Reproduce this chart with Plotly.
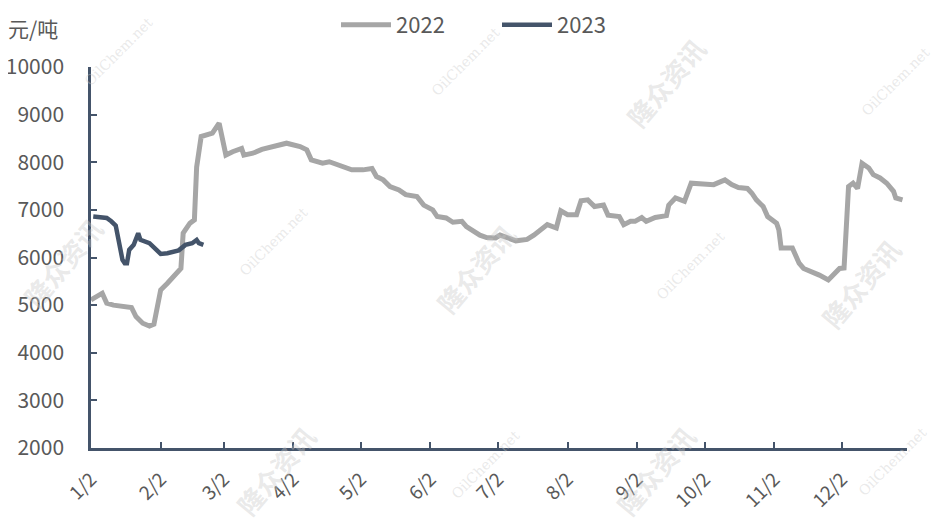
import plotly.graph_objects as go

# ---- data ----
dates_2022 = [
    "2022-01-02", "2022-01-07", "2022-01-09", "2022-01-12", "2022-01-20", "2022-01-22",
    "2022-01-25", "2022-01-28", "2022-01-30", "2022-02-02", "2022-02-05", "2022-02-09",
    "2022-02-11", "2022-02-12", "2022-02-15", "2022-02-17", "2022-02-18", "2022-02-20",
    "2022-02-22", "2022-02-25", "2022-02-28", "2022-03-03", "2022-03-06", "2022-03-10",
    "2022-03-11", "2022-03-15", "2022-03-19", "2022-03-24", "2022-03-30", "2022-04-05",
    "2022-04-08", "2022-04-10", "2022-04-15", "2022-04-18", "2022-04-22", "2022-04-25",
    "2022-04-28", "2022-05-03", "2022-05-07", "2022-05-09", "2022-05-12", "2022-05-15",
    "2022-05-19", "2022-05-22", "2022-05-27", "2022-05-30", "2022-06-03", "2022-06-05",
    "2022-06-09", "2022-06-12", "2022-06-16", "2022-06-18", "2022-06-21", "2022-06-24",
    "2022-06-27", "2022-07-01", "2022-07-03", "2022-07-06", "2022-07-10", "2022-07-15",
    "2022-07-18", "2022-07-24", "2022-07-28", "2022-07-30", "2022-08-02", "2022-08-06",
    "2022-08-08", "2022-08-11", "2022-08-14", "2022-08-18", "2022-08-20", "2022-08-25",
    "2022-08-27", "2022-08-30", "2022-09-01", "2022-09-04", "2022-09-06", "2022-09-10",
    "2022-09-15", "2022-09-16", "2022-09-19", "2022-09-23", "2022-09-26", "2022-10-06",
    "2022-10-11", "2022-10-14", "2022-10-17", "2022-10-21", "2022-10-23", "2022-10-25",
    "2022-10-28", "2022-10-30", "2022-11-03", "2022-11-04", "2022-11-05", "2022-11-10",
    "2022-11-13", "2022-11-15", "2022-11-19", "2022-11-22", "2022-11-26", "2022-11-28",
    "2022-12-01", "2022-12-03", "2022-12-05", "2022-12-07", "2022-12-09", "2022-12-11",
    "2022-12-14", "2022-12-16", "2022-12-19", "2022-12-22", "2022-12-25", "2022-12-26",
    "2022-12-29",
]
values_2022 = [
    5110, 5250, 5040, 5000, 4950, 4760,
    4620, 4560, 4600, 5320, 5460, 5670,
    5770, 6510, 6720, 6790, 7900, 8540,
    8570, 8610, 8820, 8150, 8220, 8290,
    8150, 8190, 8270, 8330, 8400, 8330,
    8260, 8050, 7980, 8010, 7950, 7880,
    7840, 7840, 7870, 7700, 7630, 7490,
    7420, 7320, 7280, 7100, 7000, 6860,
    6830, 6740, 6760, 6650, 6550, 6470,
    6420, 6410, 6470, 6420, 6350, 6380,
    6470, 6690, 6620, 6980, 6900, 6900,
    7190, 7210, 7070, 7100, 6890, 6860,
    6690, 6760, 6760, 6840, 6760, 6840,
    6880, 7100, 7250, 7180, 7560, 7530,
    7630, 7530, 7470, 7450, 7350, 7210,
    7070, 6860, 6720, 6580, 6200, 6200,
    5880, 5770, 5700, 5630, 5530, 5630,
    5770, 5780, 7490, 7560, 7450, 7980,
    7880, 7740, 7670, 7560, 7390, 7250,
    7210,
]

dates_2023 = [
    "2023-01-03", "2023-01-09", "2023-01-11", "2023-01-13", "2023-01-16", "2023-01-17",
    "2023-01-18", "2023-01-19", "2023-01-21", "2023-01-23", "2023-01-24", "2023-01-26",
    "2023-01-28", "2023-02-02", "2023-02-05", "2023-02-10", "2023-02-13", "2023-02-16",
    "2023-02-18", "2023-02-19", "2023-02-21",
]
values_2023 = [
    6860, 6830, 6760, 6670, 5950, 5880,
    5880, 6160, 6265, 6510, 6370, 6335,
    6300, 6075, 6090, 6150, 6265, 6300,
    6370, 6300, 6265,
]

tick_vals = ["2022-%02d-02" % m for m in range(1, 13)]
tick_text = ["%d/2" % m for m in range(1, 13)]

# plot 2023 on the same month/day axis
dates_2023_on_axis = ["2022" + d[4:] for d in dates_2023]

AXIS = "#44546A"
GRAY = "#A6A6A6"
NAVY = "#44546A"
TXT = "#595959"
FONT = "Noto Sans CJK SC"

# plot area in figure pixels
L, T, W, H = 83, 59, 816, 381

def px(X):  # screenshot x -> paper
    return (X - 8 - L) / W

def py(Y):  # screenshot y -> paper
    return (T + H - (Y - 8)) / H

fig = go.Figure()
fig.add_trace(go.Scatter(x=dates_2022, y=values_2022, name="2022", mode="lines",
                         line=dict(color=GRAY, width=5)))
fig.add_trace(go.Scatter(x=dates_2023_on_axis, y=values_2023, name="2023", mode="lines",
                         line=dict(color=NAVY, width=4.5)))

# watermarks
WM = "rgba(200,200,200,0.4)"
for (X, Y) in [(665, 82), (62, 262), (475, 268), (860, 283), (275, 470), (655, 470)]:
    fig.add_annotation(text="隆众资讯", x=px(X), y=py(Y), xref="paper", yref="paper", showarrow=False,
                       xanchor="center", yanchor="middle", textangle=-50,
                       font=dict(size=26, color=WM, family=FONT, weight="bold"))
for (X, Y) in [(118, 52), (465, 62), (273, 242), (690, 266), (485, 465), (892, 462), (895, 82)]:
    fig.add_annotation(text="OilChem.net", x=px(X), y=py(Y), xref="paper", yref="paper", showarrow=False,
                       xanchor="center", yanchor="middle", textangle=-45,
                       font=dict(size=14, color=WM, family="DejaVu Serif"))

fig.add_annotation(text="元/吨", x=px(6), y=py(28), xref="paper", yref="paper",
                   showarrow=False, xanchor="left", yanchor="middle",
                   font=dict(size=21, color=TXT, family=FONT))

fig.update_layout(
    width=940, height=532,
    margin=dict(l=L, r=940 - L - W, t=T, b=532 - T - H, autoexpand=False),
    paper_bgcolor="white", plot_bgcolor="white",
    font=dict(family=FONT, color=TXT, size=17),
    showlegend=True,
    legend=dict(orientation="h", x=(328 - L) / W, xanchor="left",
                yref="container", y=1 - 17 / 532, yanchor="middle",
                font=dict(size=22, color=TXT), entrywidth=96, itemwidth=50),
    xaxis=dict(type="date", range=["2022-01-02", "2022-12-31"], tickvals=tick_vals, ticktext=tick_text,
               tickangle=-45, showgrid=False, zeroline=False, showline=True, linecolor=AXIS, linewidth=2.5,
               ticks="inside", ticklen=6, tickwidth=2, tickcolor=AXIS, automargin=False,
               tickfont=dict(size=19, color=TXT), ticklabelstandoff=10),
    yaxis=dict(range=[2000, 10000], dtick=1000, tick0=2000, tickformat="d", showgrid=False, zeroline=False,
               showline=True, linecolor=AXIS, linewidth=2.5, automargin=False,
               ticks="inside", ticklen=6, tickwidth=2, tickcolor=AXIS,
               tickfont=dict(size=21, color=TXT), ticklabelstandoff=20),
)

fig.write_html("out.html")
